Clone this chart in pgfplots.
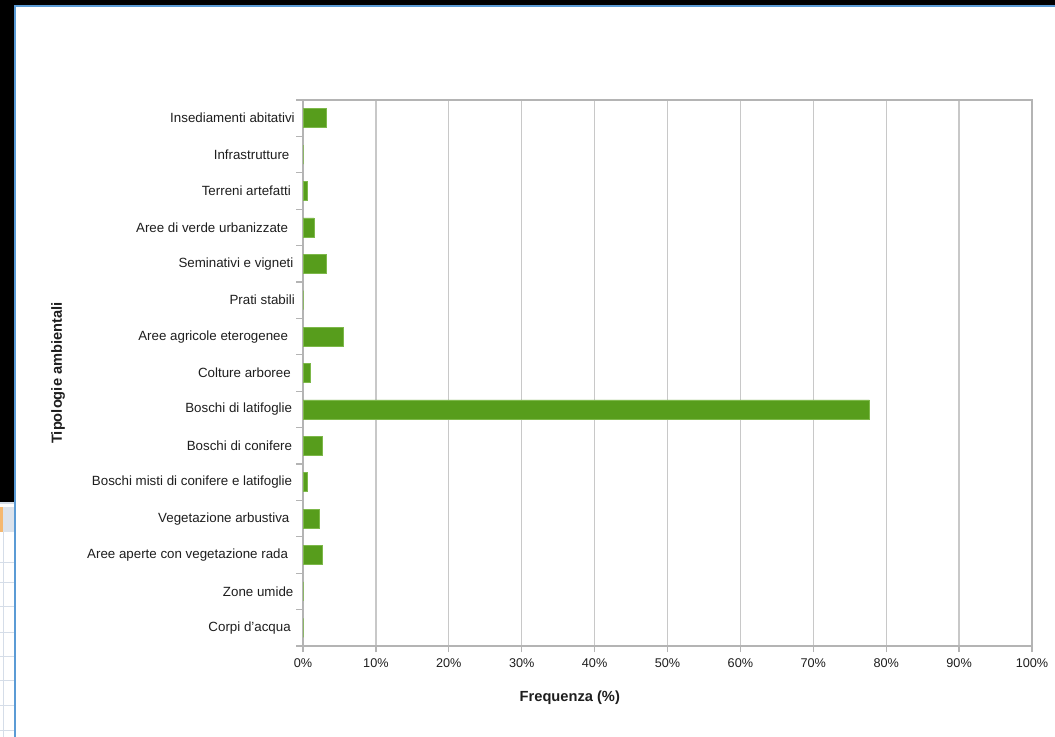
\documentclass[border=0pt]{standalone}
\usepackage{pgfplots}
\pgfplotsset{compat=1.18}
\usepackage{fontspec}
\setmainfont{Liberation Sans}
\definecolor{barg}{HTML}{579D1C}
\definecolor{baredge}{HTML}{7DB84A}
\definecolor{axgray}{HTML}{B4B4B4}
\definecolor{gridgray}{HTML}{C8C8C8}
\definecolor{txt}{HTML}{1E1E1E}
\definecolor{winblue}{HTML}{5B9BD5}
\definecolor{sheetline}{HTML}{D5DDE8}
\definecolor{sheethead}{HTML}{DCE3EC}
\definecolor{sheetorange}{HTML}{F5B870}
\newcommand{\tr}[1]{\mbox{}\kern#1pt\relax}

\begin{document}
\begin{tikzpicture}
\path[use as bounding box] (0,0) rectangle (791.25pt,-552.75pt);
\fill[white] (0,0) rectangle (791.25pt,-552.75pt);
% screenshot frame
\fill[black] (0,0) rectangle (791.25pt,-3.75pt);
\fill[black] (0,0) rectangle (10.5pt,-376.5pt);
\fill[white] (0,-376.5pt) rectangle (10.5pt,-552.75pt);
\fill[sheetline] (0,-376.5pt) rectangle (10.5pt,-378pt);
\fill[sheethead] (0,-380.25pt) rectangle (10.5pt,-399pt);
\fill[sheetorange] (0,-380.25pt) rectangle (2.25pt,-399pt);
\foreach \yy in {421.5,436.5,455,474,492.5,510,529,547.5}{
  \draw[sheetline, line width=0.75pt] (0,-\yy pt) -- (10.5pt,-\yy pt);
}
\draw[sheetline, line width=0.75pt] (2.25pt,-399pt) -- (2.25pt,-552.75pt);
\fill[winblue] (10.5pt,-3.75pt) rectangle (12pt,-552.75pt);
\fill[winblue] (10.5pt,-3.75pt) rectangle (791.25pt,-5.25pt);

\begin{axis}[
  at={(227.25pt,-484.5pt)}, anchor=south west,
  scale only axis, width=546.75pt, height=409.5pt,
  xbar, bar width=0.52,
  xmin=0, xmax=100,
  xtick={0,10,...,100},
  xticklabel={\pgfmathprintnumber{\tick}\%},
  /pgf/number format/assume math mode=true,
  ymin=-0.5, ymax=14.5, y dir=reverse,
  ytick={0,...,14},
  yticklabels={Insediamenti abitativi, Infrastrutture\tr{4}, Terreni artefatti\tr{3}, Aree di verde urbanizzate\tr{5}, Seminativi e vigneti\tr{1}, Prati stabili, Aree agricole eterogenee\tr{5}, Colture arboree\tr{3}, Boschi di latifoglie\tr{2}, Boschi di conifere\tr{2}, Boschi misti di conifere e latifoglie\tr{2}, Vegetazione arbustiva\tr{4}, Aree aperte con vegetazione rada\tr{5}, Zone umide\tr{1}, Corpi d'acqua\tr{3}},
  minor ytick={-0.5,0.5,...,14.5},
  tick pos=left,
  minor tick length=5pt,
  major tick length=4.5pt,
  tick align=outside,
  tick style={axgray, line width=1pt},
  major y tick style={draw=none},
  minor y tick style={axgray, line width=1pt},
  axis line style={axgray, line width=1pt},
  xmajorgrids,
  grid style={gridgray, line width=1pt},
  yticklabel style={font=\fontsize{10}{12}\selectfont, text=txt, inner sep=1.5pt},
  xticklabel style={font=\fontsize{9.5}{11}\selectfont, text=txt, yshift=-1.5pt},
  xlabel={\textbf{Frequenza (\%)}},
  ylabel={\textbf{Tipologie ambientali}},
  xlabel style={at={(axis description cs:0.366,-0.0952)}, anchor=center, font=\fontsize{11}{13}\selectfont, text=txt},
  ylabel style={at={(axis description cs:-0.336,0.5)}, anchor=center, font=\fontsize{11}{13}\selectfont, text=txt},
]
\addplot[fill=barg, draw=baredge, line width=0.5pt] coordinates {
  (3.2,0) (0,1) (0.6,2) (1.5,3) (3.2,4) (0,5) (5.5,6) (1.05,7)
  (77.7,8) (2.7,9) (0.6,10) (2.3,11) (2.7,12) (0,13) (0,14)
};
\end{axis}
\end{tikzpicture}
\end{document}
